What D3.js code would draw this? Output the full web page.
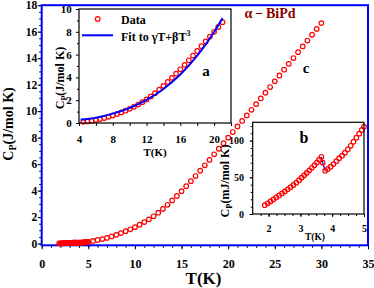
<!DOCTYPE html>
<html lang="en">
<head>
<meta charset="UTF-8">
<title>alpha-BiPd heat capacity</title>
<script src="https://cdn.jsdelivr.net/npm/d3@7"></script>
<style>
	body { margin: 0; background: #ffffff; }
</style>
</head>
<body>
<div id="chart"></div>
<script>
	// main curve, T in K, Cp in J/mol K (0.5 K steps)
	var tempMain = [4.5, 5, 5.5, 6, 6.5, 7, 7.5, 8, 8.5, 9, 9.5, 10, 10.5, 11, 11.5, 12, 12.5, 13, 13.5, 14,
		14.5, 15, 15.5, 16, 16.5, 17, 17.5, 18, 18.5, 19, 19.5, 20, 20.5, 21, 21.5, 22, 22.5, 23, 23.5, 24,
		24.5, 25, 25.5, 26, 26.5, 27, 27.5, 28, 28.5, 29, 29.5, 30];
	var cpMain = [0.10, 0.14, 0.20, 0.27, 0.34, 0.43, 0.54, 0.66, 0.79, 0.93, 1.08, 1.24, 1.42, 1.62, 1.83, 2.06, 2.33, 2.62, 2.93, 3.26,
		3.60, 3.96, 4.33, 4.71, 5.10, 5.50, 5.91, 6.32, 6.74, 7.16, 7.58, 8.00, 8.42, 8.84, 9.26, 9.68, 10.10, 10.53, 10.96, 11.39,
		11.82, 12.25, 12.69, 13.13, 13.57, 14.01, 14.45, 14.89, 15.33, 15.77, 16.21, 16.65];

	// low temperature run (inset b), Cp in mJ/mol K
	var tempLow = [1.88, 1.97, 2.06, 2.15, 2.24, 2.33, 2.42, 2.51, 2.60, 2.69, 2.78, 2.87, 2.96, 3.04, 3.12, 3.20, 3.28, 3.36, 3.44, 3.52,
		3.59, 3.66, 3.70, 3.78, 3.86, 3.95, 4.04, 4.13, 4.22, 4.31, 4.40, 4.49, 4.58, 4.67, 4.76, 4.85, 4.93, 5.00];
	var cpLow = [12.0, 14.6, 17.2, 19.9, 22.6, 25.3, 28.0, 30.8, 33.6, 36.5, 39.5, 42.6, 46.0, 49.5, 52.8, 56.0, 59.5, 63.0, 66.5, 70.2,
		74.0, 78.0, 70.0, 59.0, 61.5, 64.5, 68.0, 72.0, 76.0, 79.5, 83.5, 88.0, 93.0, 98.5, 104.0, 109.5, 114.5, 119.0];

	// gamma T + beta T^3 fit as drawn in inset a
	var fitT = [4.2, 6, 8, 10, 12, 14, 16, 18, 20, 21];
	var fitCp = [0.30, 0.47, 0.82, 1.32, 2.02, 2.98, 4.25, 5.90, 7.98, 9.20];

	var mainXTicks = [0, 5, 10, 15, 20, 25, 30, 35];
	var mainYTicks = [0, 2, 4, 6, 8, 10, 12, 14, 16, 18];
	var aXTicks = [4, 8, 12, 16, 20];
	var aYTicks = [0, 2, 4, 6, 8, 10];
	var bXTicks = [2, 3, 4, 5];
	var bYTicks = [0, 50, 100];

	var w = 374;
	var h = 288;
	var serif = "'Liberation Serif', 'Times New Roman', serif";
	var red = "#ff0000";
	var blue = "#0000ff";
	var fmt = d3.format("d");

	var svg = d3.select("#chart").append("svg")
		.attr("width", w)
		.attr("height", h)
		.style("display", "block")
		.attr("font-family", serif)
		.attr("font-weight", "bold");

	function styleAxis(g, size) {
		g.attr("font-family", serif).attr("font-size", size).attr("font-weight", "bold");
		g.select(".domain").remove();
		g.selectAll("line").attr("stroke", "#000").attr("stroke-width", 1);
		g.selectAll("text").attr("fill", "#000");
	}

	// ---------- main plot ----------
	var x = d3.scaleLinear().domain([0, 35]).range([41.7, 368]);
	var y = d3.scaleLinear().domain([-0.13, 18]).range([245.3, 5.2]);

	svg.append("g")
		.attr("transform", "translate(0,245.3)")
		.call(d3.axisBottom(x).tickValues(d3.range(0, 36, 1)).tickSize(2.5).tickFormat(""))
		.call(styleAxis, 12);
	svg.append("g")
		.attr("transform", "translate(0,245.3)")
		.call(d3.axisBottom(x).tickValues(mainXTicks).tickSize(4).tickPadding(10).tickFormat(fmt))
		.call(styleAxis, 12);
	svg.append("g")
		.attr("transform", "translate(41.7,0)")
		.call(d3.axisLeft(y).tickValues(d3.range(0, 18.01, 0.5)).tickSize(2.5).tickFormat(""))
		.call(styleAxis, 12);
	svg.append("g")
		.attr("transform", "translate(41.7,0)")
		.call(d3.axisLeft(y).tickValues(mainYTicks).tickSize(4).tickPadding(0.5).tickFormat(fmt))
		.call(styleAxis, 11.5);

	svg.append("rect")
		.attr("x", x(0)).attr("y", y(18))
		.attr("width", x(35) - x(0)).attr("height", y(-0.13) - y(18))
		.attr("fill", "none")
		.attr("stroke", blue)
		.attr("stroke-width", 2);

	svg.selectAll(".low-main")
		.data(d3.range(tempLow.length))
		.enter()
		.append("circle")
		.attr("cx", function(i) { return x(tempLow[i]); })
		.attr("cy", function(i) { return y(cpLow[i] / 1000); })
		.attr("r", 2.3)
		.attr("fill", "none")
		.attr("stroke", red)
		.attr("stroke-width", 1.2);

	svg.selectAll(".dot-main")
		.data(d3.range(tempMain.length).filter(function(i) { return tempMain[i] > 5; }))
		.enter()
		.append("circle")
		.attr("cx", function(i) { return x(tempMain[i]); })
		.attr("cy", function(i) { return y(cpMain[i]); })
		.attr("r", 2.3)
		.attr("fill", "none")
		.attr("stroke", red)
		.attr("stroke-width", 1.2);

	svg.append("text")
		.attr("x", 203.5).attr("y", 284)
		.attr("text-anchor", "middle")
		.attr("font-size", 17)
		.text("T(K)");

	var yTitle = svg.append("text")
		.attr("transform", "translate(13,124) rotate(-90)")
		.attr("text-anchor", "middle")
		.attr("font-size", 14);
	yTitle.append("tspan").text("C");
	yTitle.append("tspan").attr("font-size", 10).attr("dy", 3).text("P");
	yTitle.append("tspan").attr("dy", -3).text("(J/mol K)");

	svg.append("text")
		.attr("x", 270).attr("y", 18)
		.attr("text-anchor", "middle")
		.attr("font-size", 14)
		.attr("fill", "#8b0000")
		.text("\u03b1\u2009\u2212\u2009BiPd");

	svg.append("text")
		.attr("x", 306).attr("y", 72.5)
		.attr("text-anchor", "middle")
		.attr("font-size", 15)
		.text("c");

	// ---------- inset a ----------
	var xa = d3.scaleLinear().domain([4, 22]).range([79, 231]);
	var ya = d3.scaleLinear().domain([0, 10]).range([123, 9]);

	svg.append("rect")
		.attr("x", 79).attr("y", 9)
		.attr("width", 152).attr("height", 114)
		.attr("fill", "#ffffff");

	svg.append("g")
		.attr("transform", "translate(0,123)")
		.call(d3.axisBottom(xa).tickValues([6, 10, 14, 18, 22]).tickSize(3).tickFormat(""))
		.call(styleAxis, 11);
	svg.append("g")
		.attr("transform", "translate(0,123)")
		.call(d3.axisBottom(xa).tickValues(aXTicks).tickSize(3).tickPadding(8.7).tickFormat(fmt))
		.call(styleAxis, 11);
	svg.append("g")
		.attr("transform", "translate(79,0)")
		.call(d3.axisLeft(ya).tickValues([1, 3, 5, 7, 9]).tickSize(2).tickFormat(""))
		.call(styleAxis, 11);
	svg.append("g")
		.attr("transform", "translate(79,0)")
		.call(d3.axisLeft(ya).tickValues(aYTicks).tickSize(3).tickPadding(4.3).tickFormat(fmt))
		.call(styleAxis, 11);

	svg.selectAll(".dot-a")
		.data(d3.range(tempMain.length).filter(function(i) { return tempMain[i] <= 21; }))
		.enter()
		.append("circle")
		.attr("cx", function(i) { return xa(tempMain[i]); })
		.attr("cy", function(i) { return ya(cpMain[i]); })
		.attr("r", 2.3)
		.attr("fill", "none")
		.attr("stroke", red)
		.attr("stroke-width", 1.2);

	var fitLine = d3.line()
		.x(function(i) { return xa(fitT[i]); })
		.y(function(i) { return ya(fitCp[i]); })
		.curve(d3.curveMonotoneX);

	svg.append("path")
		.attr("d", fitLine(d3.range(fitT.length)))
		.attr("fill", "none")
		.attr("stroke", blue)
		.attr("stroke-width", 2);

	svg.append("rect")
		.attr("x", 79).attr("y", 9)
		.attr("width", 152).attr("height", 114)
		.attr("fill", "none")
		.attr("stroke", "#000")
		.attr("stroke-width", 1.2);

	// legend
	svg.append("circle")
		.attr("cx", 97.7).attr("cy", 19)
		.attr("r", 2.3)
		.attr("fill", "none")
		.attr("stroke", red)
		.attr("stroke-width", 1.2);
	svg.append("text")
		.attr("x", 121).attr("y", 24)
		.attr("font-size", 12)
		.text("Data");
	svg.append("line")
		.attr("x1", 82).attr("x2", 113)
		.attr("y1", 35.3).attr("y2", 35.3)
		.attr("stroke", blue)
		.attr("stroke-width", 2);
	var fitLabel = svg.append("text")
		.attr("x", 121).attr("y", 40.5)
		.attr("font-size", 12);
	fitLabel.append("tspan").text("Fit to \u03b3T+\u03b2T");
	fitLabel.append("tspan").attr("font-size", 8).attr("dy", -5).text("3");

	svg.append("text")
		.attr("x", 155).attr("y", 156)
		.attr("text-anchor", "middle")
		.attr("font-size", 11)
		.text("T(K)");

	var aTitle = svg.append("text")
		.attr("transform", "translate(64,78) rotate(-90)")
		.attr("text-anchor", "middle")
		.attr("font-size", 12);
	aTitle.append("tspan").text("C");
	aTitle.append("tspan").attr("font-size", 8).attr("dy", 2.5).text("P");
	aTitle.append("tspan").attr("dy", -2.5).text("(J/mol K)");

	svg.append("text")
		.attr("x", 206).attr("y", 76)
		.attr("text-anchor", "middle")
		.attr("font-size", 15)
		.text("a");

	// ---------- inset b ----------
	var xb = d3.scaleLinear().domain([1.5, 5]).range([252.7, 364]);
	var yb = d3.scaleLinear().domain([0, 125]).range([214, 122.3]);

	svg.append("rect")
		.attr("x", 252.7).attr("y", 122.3)
		.attr("width", 364 - 252.7).attr("height", 214 - 122.3)
		.attr("fill", "#ffffff");

	svg.append("g")
		.attr("transform", "translate(0,214)")
		.call(d3.axisBottom(xb).tickValues(d3.range(1.75, 5, 0.25)).tickSize(2).tickFormat(""))
		.call(styleAxis, 10);
	svg.append("g")
		.attr("transform", "translate(0,214)")
		.call(d3.axisBottom(xb).tickValues(bXTicks).tickSize(3).tickPadding(7.9).tickFormat(fmt))
		.call(styleAxis, 10);
	svg.append("g")
		.attr("transform", "translate(252.7,0)")
		.call(d3.axisLeft(yb).tickValues(d3.range(10, 125, 10)).tickSize(2).tickFormat(""))
		.call(styleAxis, 10);
	svg.append("g")
		.attr("transform", "translate(252.7,0)")
		.call(d3.axisLeft(yb).tickValues(bYTicks).tickSize(3).tickPadding(5.7).tickFormat(fmt))
		.call(styleAxis, 10);

	// blue connection across the transition jump
	var jumpIdx = d3.range(tempLow.length).filter(function(i) { return tempLow[i] >= 3.66 && tempLow[i] <= 3.78; });
	svg.append("path")
		.attr("d", d3.line()
			.x(function(i) { return xb(tempLow[i]); })
			.y(function(i) { return yb(cpLow[i]); })(jumpIdx))
		.attr("fill", "none")
		.attr("stroke", blue)
		.attr("stroke-width", 1.2);

	svg.selectAll(".dot-b")
		.data(d3.range(tempLow.length))
		.enter()
		.append("circle")
		.attr("cx", function(i) { return xb(tempLow[i]); })
		.attr("cy", function(i) { return yb(cpLow[i]); })
		.attr("r", 2.3)
		.attr("fill", "none")
		.attr("stroke", red)
		.attr("stroke-width", 1.2);

	svg.append("rect")
		.attr("x", 252.7).attr("y", 122.3)
		.attr("width", 364 - 252.7).attr("height", 214 - 122.3)
		.attr("fill", "none")
		.attr("stroke", "#000")
		.attr("stroke-width", 1.2);

	svg.append("text")
		.attr("x", 315).attr("y", 239.5)
		.attr("text-anchor", "middle")
		.attr("font-size", 9.5)
		.text("T(K)");

	var bTitle = svg.append("text")
		.attr("transform", "translate(229,181) rotate(-90)")
		.attr("text-anchor", "middle")
		.attr("font-size", 12);
	bTitle.append("tspan").text("C");
	bTitle.append("tspan").attr("font-size", 8.5).attr("dy", 2.5).text("P");
	bTitle.append("tspan").attr("dy", -2.5).text("(mJ/mol K)");

	svg.append("text")
		.attr("x", 304).attr("y", 143)
		.attr("text-anchor", "middle")
		.attr("font-size", 16)
		.text("b");
</script>
</body>
</html>
